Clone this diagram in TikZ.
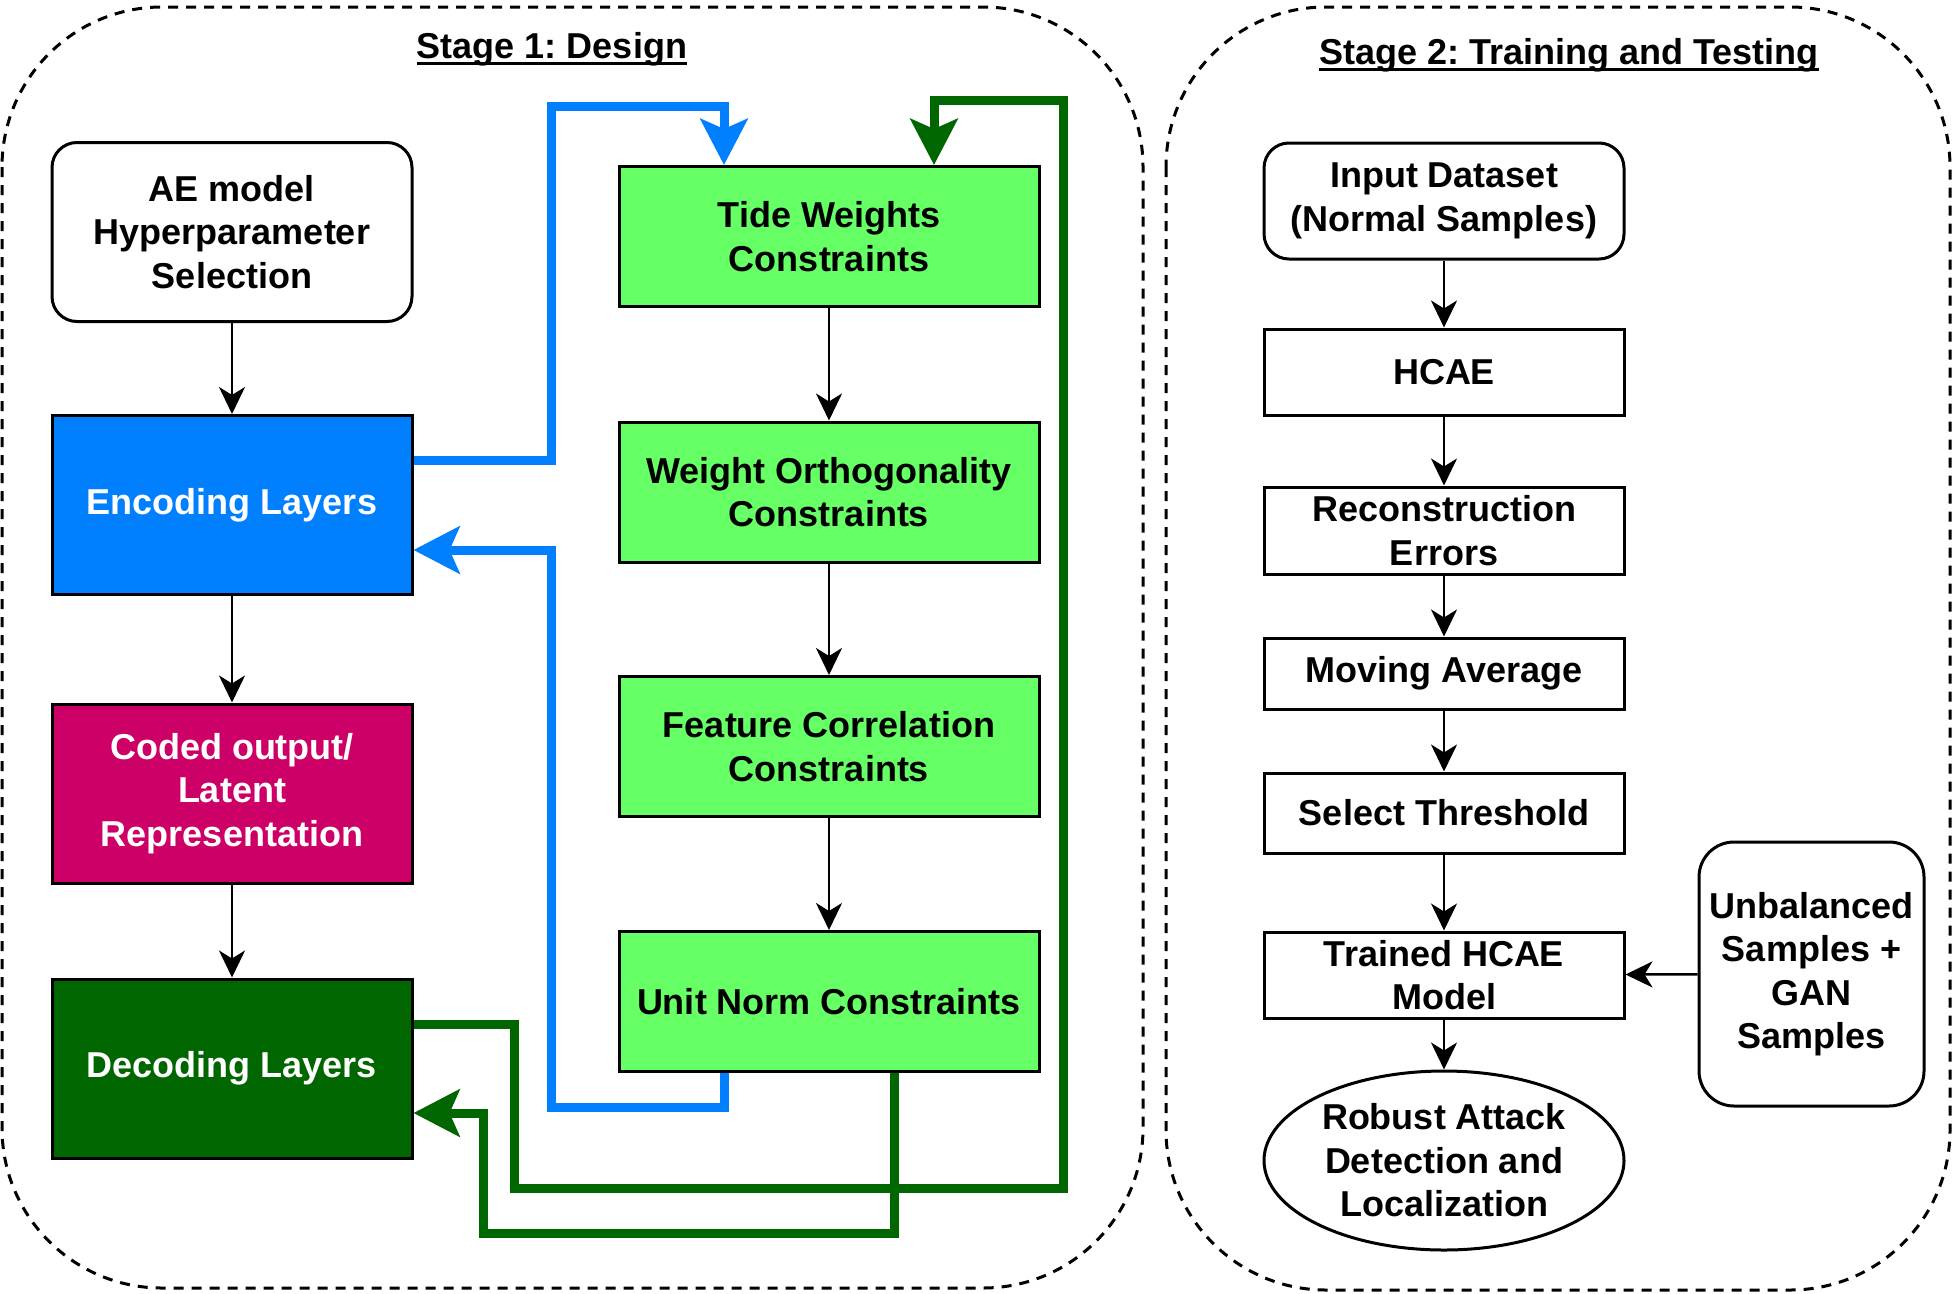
\documentclass[tikz,border=0pt]{standalone}
\usepackage{fontspec}
\setmainfont{Liberation Sans}
\usepackage{tikz}
\usetikzlibrary{arrows.meta}
\usetikzlibrary{shapes.geometric}
\frenchspacing
\definecolor{encblue}{HTML}{007FFF}
\definecolor{codedpink}{HTML}{CC0066}
\definecolor{decgreen}{HTML}{006600}
\definecolor{constgreen}{HTML}{66FF66}
\newcommand{\titleline}[1]{\setbox0\hbox{#1}\rlap{\vrule width\wd0 height -4pt depth 6.5pt}\box0}
\tikzstyle{stage}=[draw, line width=3pt, dash pattern=on 10pt off 8pt, rounded corners=160pt]
\tikzstyle{title}=[inner sep=0pt, font=\fontsize{36}{43}\selectfont\bfseries]
\tikzstyle{box}=[rectangle, draw, line width=3pt, minimum width=360pt, minimum height=179pt, inner sep=0pt, align=center, font=\fontsize{36}{43.5}\selectfont\bfseries]
\tikzstyle{rbox}=[box, rounded corners=25pt]
\tikzstyle{cbox}=[box, minimum width=420pt, minimum height=140pt, fill=constgreen]
\tikzstyle{oval}=[box, ellipse]
\tikzstyle{edge}=[line width=2.5pt, -{Stealth[length=27pt, width=26pt, inset=8pt]}]
\tikzstyle{bluelink}=[line width=9pt, draw=encblue, -{Stealth[length=46pt, width=47pt, inset=10pt]}]
\tikzstyle{greenlink}=[line width=9pt, draw=decgreen, -{Stealth[length=46pt, width=47pt, inset=10pt]}]

\begin{document}
\begin{tikzpicture}[x=1pt, y=-1pt]
	\useasboundingbox[fill=white] (0,0) rectangle (1953,1293);
	\draw[stage] (2,7) rectangle (1143,1288);
	\draw[stage] (1166,7) rectangle (1950,1290);
	\draw (552,49) node[title] (t1) {\titleline{Stage 1: Design}};
	\draw (1569,55) node[title] (t2) {\titleline{Stage 2: Training and Testing}};

	\draw (232,232) node[rbox] (ae) {AE model\\Hyperparameter\\Selection};
	\draw (232,505) node[box, fill=encblue, text=white] (enc) {Encoding Layers};
	\draw (232,793.5) node[box, fill=codedpink, text=white] (coded) {Coded output/\\Latent\\Representation};
	\draw (232,1068.5) node[box, fill=decgreen, text=white] (dec) {Decoding Layers};

	\draw (829,236.5) node[cbox] (tide) {Tide Weights\\Constraints};
	\draw (829,492) node[cbox] (wo) {Weight Orthogonality\\Constraints};
	\draw (829,746.5) node[cbox] (fc) {Feature Correlation\\Constraints};
	\draw (829,1001.5) node[cbox] (un) {Unit Norm Constraints};

	\draw[edge] (ae) -- (enc);
	\draw[edge] (enc) -- (coded);
	\draw[edge] (coded) -- (dec);
	\draw[edge] (tide) -- (wo);
	\draw[edge] (wo) -- (fc);
	\draw[edge] (fc) -- (un);

	\draw[bluelink] (enc.east |- 0,460) -| (551,106) -| (tide.north -| 724,0);
	\draw[bluelink] (un.south -| 724,0) -- (724,1107) -| (551,550) -- (enc.east |- 0,550);
	\draw[greenlink] (dec.east |- 0,1024) -| (514,1188) -| (1063,100) -| (tide.north -| 934,0);
	\draw[greenlink] (un.south -| 894,0) -- (894,1233) -| (483,1113) -- (dec.east |- 0,1113);

	\draw (1444,201) node[rbox, minimum height=116pt] (input) {Input Dataset\\(Normal Samples)};
	\draw (1444,372) node[box, minimum height=86pt] (hcae) {HCAE};
	\draw (1444,530.5) node[box, minimum height=87pt] (recon) {Reconstruction\\Errors};
	\draw (1444,673.5) node[box, minimum height=71pt] (moving) {Moving Average};
	\draw (1444,813) node[box, minimum height=80pt] (select) {Select Threshold};
	\draw (1444,975) node[box, minimum height=86pt] (trained) {Trained HCAE\\Model};
	\draw (1444,1160.5) node[oval] (robust) {Robust Attack\\Detection and\\Localization};
	\draw (1811.5,974) node[rbox, rounded corners=35pt, minimum width=225pt, minimum height=264pt] (unbal) {Unbalanced\\Samples +\\GAN\\Samples};

	\draw[edge] (input) -- (hcae);
	\draw[edge] (hcae) -- (recon);
	\draw[edge] (recon) -- (moving);
	\draw[edge] (moving) -- (select);
	\draw[edge] (select) -- (trained);
	\draw[edge] (trained) -- (robust);
	\draw[edge] (unbal) -- (trained);
\end{tikzpicture}
\end{document}
